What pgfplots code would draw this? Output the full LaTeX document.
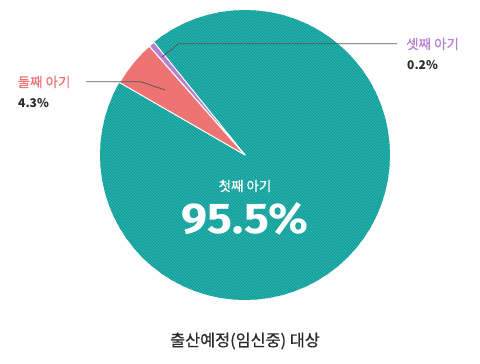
\documentclass[border=0pt]{standalone}
\usepackage{pgfplots}
\pgfplotsset{compat=1.18}
\usepgfplotslibrary{polar}
\usetikzlibrary{patterns}
\usepackage{fontspec}
\setmainfont{Noto Sans CJK KR}
\newfontfamily\krm{Noto Sans CJK KR}[FakeBold=0.6]
\newfontfamily\bignum{Fira Sans}
\definecolor{tealc}{HTML}{0FA19D}
\definecolor{tealstripe}{HTML}{3FB6B2}
\definecolor{redc}{HTML}{EE7474}
\definecolor{purc}{HTML}{B67FCF}
\definecolor{darkt}{HTML}{2B2B2B}
\definecolor{leader}{HTML}{555555}
\begin{document}
\begin{tikzpicture}
\useasboundingbox (0pt,0pt) rectangle (480pt,-364pt);
\begin{polaraxis}[
  at={(245pt,-155pt)}, anchor=center,
  scale only axis, width=290pt, height=290pt,
  hide axis, ymin=0, ymax=1, clip=false]
% 첫째 아기 (teal, full disc)
\addplot[draw=none, fill=tealc, postaction={pattern=north west lines, pattern color=tealstripe}] coordinates {
(0,1) (5,1) (10,1) (15,1) (20,1) (25,1) (30,1) (35,1) (40,1) (45,1) (50,1) (55,1)
(60,1) (65,1) (70,1) (75,1) (80,1) (85,1) (90,1) (95,1) (100,1) (105,1) (110,1) (115,1)
(120,1) (125,1) (130,1) (135,1) (140,1) (145,1) (150,1) (155,1) (160,1) (165,1) (170,1) (175,1)
(180,1) (185,1) (190,1) (195,1) (200,1) (205,1) (210,1) (215,1) (220,1) (225,1) (230,1) (235,1)
(240,1) (245,1) (250,1) (255,1) (260,1) (265,1) (270,1) (275,1) (280,1) (285,1) (290,1) (295,1)
(300,1) (305,1) (310,1) (315,1) (320,1) (325,1) (330,1) (335,1) (340,1) (345,1) (350,1) (355,1) (360,1)
} -- cycle;
% 둘째 아기 (red)
\addplot[draw=white, line width=1pt, fill=redc, line join=round] coordinates {
(0,0) (131.3,1) (135,1) (140,1) (145,1) (150,1)
} -- cycle;
% 셋째 아기 (purple)
\addplot[draw=white, line width=1pt, fill=purc, line join=round] coordinates {
(0,0) (128.9,1) (131.3,1)
} -- cycle;
\end{polaraxis}
% leader lines
\draw[leader, line width=0.8pt] (86pt,-81.7pt) -- (140.5pt,-81.7pt) -- (165pt,-90pt);
\draw[leader, line width=0.8pt] (397pt,-43.7pt) -- (178.5pt,-43.7pt) -- (162.3pt,-56.7pt);
% labels
\node[anchor=west, inner sep=0pt, text=redc, font=\krm\fontsize{13.5}{14}\selectfont] at (17.5pt,-82pt) {둘째 아기};
\node[anchor=west, inner sep=0pt, text=darkt, font=\bfseries\fontsize{12}{13}\selectfont] at (18pt,-103pt) {4.3\%};
\node[anchor=west, inner sep=0pt, text=purc, font=\krm\fontsize{13.5}{14}\selectfont] at (406pt,-44pt) {셋째 아기};
\node[anchor=west, inner sep=0pt, text=darkt, font=\bfseries\fontsize{12}{13}\selectfont] at (407pt,-65pt) {0.2\%};
\node[inner sep=0pt, text=white, font=\krm\fontsize{13.5}{14}\selectfont] at (245pt,-186pt) {첫째 아기};
\node[inner sep=0pt, text=white, xscale=1.08, font=\bignum\bfseries\fontsize{43}{44}\selectfont] at (245pt,-219pt) {95.5\%};
\node[inner sep=0pt, text=darkt, font=\krm\fontsize{16.3}{17}\selectfont] at (245pt,-341pt) {출산예정(임신중) 대상};
\end{tikzpicture}
\end{document}
